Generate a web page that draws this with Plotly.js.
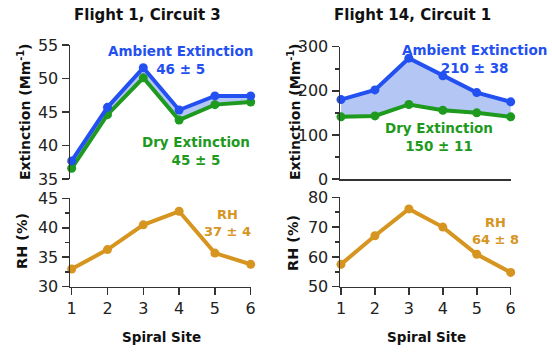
<!DOCTYPE html>
<html><head><meta charset="utf-8">
<script src="https://cdn.plot.ly/plotly-3.0.1.min.js"></script>
<style>html,body{margin:0;padding:0;background:#fff}#plot{width:552px;height:353px}</style>
</head><body><div id="plot"></div>
<script>
const sites = [1, 2, 3, 4, 5, 6];
const siteLabels = ['1', '2', '3', '4', '5', '6'];
const f1Ambient = [37.7, 45.7, 51.6, 45.3, 47.4, 47.4];
const f1Dry = [36.6, 44.6, 50.1, 43.8, 46.1, 46.5];
const f1RH = [33.0, 36.3, 40.5, 42.8, 35.7, 33.8];
const f14Ambient = [180, 202, 274, 234, 196, 175];
const f14Dry = [141, 143, 169, 156, 150, 141];
const f14RH = [57.5, 67.1, 76.1, 70.0, 60.9, 54.8];
const panelTitles = ['Flight 1, Circuit 3', 'Flight 14, Circuit 1'];
const ambientLabels = ['Ambient Extinction<br>46 ± 5', 'Ambient Extinction<br>210 ± 38'];
const dryLabels = ['Dry Extinction<br>45 ± 5', 'Dry Extinction<br>150 ± 11'];
const rhLabels = ['RH<br>37 ± 4', 'RH<br>64 ± 8'];

const BLUE = '#2350f0', GREEN = '#1e9a1e', GOLD = '#d6951f', FILL = '#b4c6f3';
const W = 552, H = 353;
const px = v => v / W, py = v => 1 - v / H;
const FONT = 'DejaVu Sans';

function ln(color, w) { return {color: color, width: w}; }
const traces = [
  {x: sites, y: f1Dry, xaxis: 'x', yaxis: 'y', mode: 'lines+markers', line: ln(GREEN, 4), marker: {size: 9, color: GREEN}, cliponaxis: false},
  {x: sites, y: f1Ambient, xaxis: 'x', yaxis: 'y', mode: 'lines+markers', fill: 'tonexty', fillcolor: FILL, line: ln(BLUE, 4), marker: {size: 9, color: BLUE}, cliponaxis: false},
  {x: sites, y: f14Dry, xaxis: 'x2', yaxis: 'y2', mode: 'lines+markers', line: ln(GREEN, 4), marker: {size: 9, color: GREEN}, cliponaxis: false},
  {x: sites, y: f14Ambient, xaxis: 'x2', yaxis: 'y2', mode: 'lines+markers', fill: 'tonexty', fillcolor: FILL, line: ln(BLUE, 4), marker: {size: 9, color: BLUE}, cliponaxis: false},
  {x: sites, y: f1RH, xaxis: 'x3', yaxis: 'y3', mode: 'lines+markers', line: ln(GOLD, 4), marker: {size: 9, color: GOLD}, cliponaxis: false},
  {x: sites, y: f14RH, xaxis: 'x4', yaxis: 'y4', mode: 'lines+markers', line: ln(GOLD, 4), marker: {size: 9, color: GOLD}, cliponaxis: false}
];

const AX = '#333333';
const tickFont = {family: FONT, size: 16, color: '#222'};
function yax(domain, range, dtick, minor, anchor) {
  const a = {domain: domain, range: range, dtick: dtick, tick0: 0, anchor: anchor, showgrid: false, zeroline: false,
    showline: true, linecolor: AX, linewidth: 1.5, ticks: 'outside', ticklen: 7, tickwidth: 1.5, tickcolor: AX,
    tickfont: tickFont, fixedrange: true};
  if (minor) a.minor = {dtick: minor, ticklen: 4, tickwidth: 1.5, tickcolor: AX, ticks: 'outside', showgrid: false};
  return a;
}
function xax(domain, range, anchor, showTicks, showLine) {
  const a = {domain: domain, range: range, anchor: anchor, showgrid: false, zeroline: false,
    showline: showLine, linecolor: AX, linewidth: 1.5, showticklabels: showTicks,
    ticks: showTicks ? 'outside' : '', ticklen: 7, tickwidth: 1.5, tickcolor: AX,
    tickfont: tickFont, fixedrange: true};
  if (showTicks) { a.tickvals = sites; a.ticktext = siteLabels; }
  return a;
}
const leftX = [px(70), px(251)], rightX = [px(340), px(511)];
const topY = [py(179), py(45)], topY2 = [py(179), py(46.7)];
const botY = [py(286.7), py(198.3)], botY2 = [py(286.7), py(197.3)];

function ann(text, x, y, color, size, bold, extra) {
  return Object.assign({text: bold ? '<b>' + text + '</b>' : text, x: px(x), y: py(y), xref: 'paper', yref: 'paper',
    showarrow: false, xanchor: 'center', yanchor: 'middle', font: {family: FONT, size: size, color: color}}, extra || {});
}
const annotations = [
  ann(panelTitles[0], 147, 15, '#111', 15, true),
  ann(panelTitles[1], 412.5, 15, '#111', 15, true),
  ann(ambientLabels[0], 180, 60, BLUE, 13.5, true),
  ann(dryLabels[0], 196, 151, GREEN, 13.5, true),
  ann(ambientLabels[1], 474, 59, BLUE, 13.5, true),
  ann(dryLabels[1], 439, 137.5, GREEN, 13.5, true),
  ann(rhLabels[0], 227.5, 222.5, GOLD, 13, true),
  ann(rhLabels[1], 495, 231, GOLD, 13, true),
  ann('Extinction (Mm<sup>-1</sup>)', 24, 112, '#111', 14, true, {textangle: -90}),
  ann('Extinction (Mm<sup>-1</sup>)', 294, 112, '#111', 14, true, {textangle: -90}),
  ann('RH (%)', 22, 241, '#111', 14.5, true, {textangle: -90}),
  ann('RH (%)', 293, 243, '#111', 14.5, true, {textangle: -90}),
  ann('Spiral Site', 161, 337, '#111', 13.5, true),
  ann('Spiral Site', 426, 337, '#111', 13.5, true)
];

const layout = {
  width: W, height: H, margin: {l: 0, r: 0, t: 0, b: 0}, showlegend: false,
  paper_bgcolor: '#fff', plot_bgcolor: 'rgba(0,0,0,0)', font: {family: FONT},
  xaxis: xax(leftX, [0.953, 6.008], 'y', false, false),
  yaxis: yax(topY, [35, 55], 5, null, 'x'),
  xaxis2: xax(rightX, [0.971, 6.009], 'y2', false, true),
  yaxis2: yax(topY2, [0, 300], 100, 50, 'x2'),
  xaxis3: xax(leftX, [0.953, 6.008], 'y3', true, true),
  yaxis3: yax(botY, [30, 45], 5, 2.5, 'x3'),
  xaxis4: xax(rightX, [0.971, 6.009], 'y4', true, true),
  yaxis4: yax(botY2, [50, 80], 10, 5, 'x4'),
  annotations: annotations
};
Plotly.newPlot('plot', traces, layout, {staticPlot: true, displayModeBar: false});
</script></body></html>
